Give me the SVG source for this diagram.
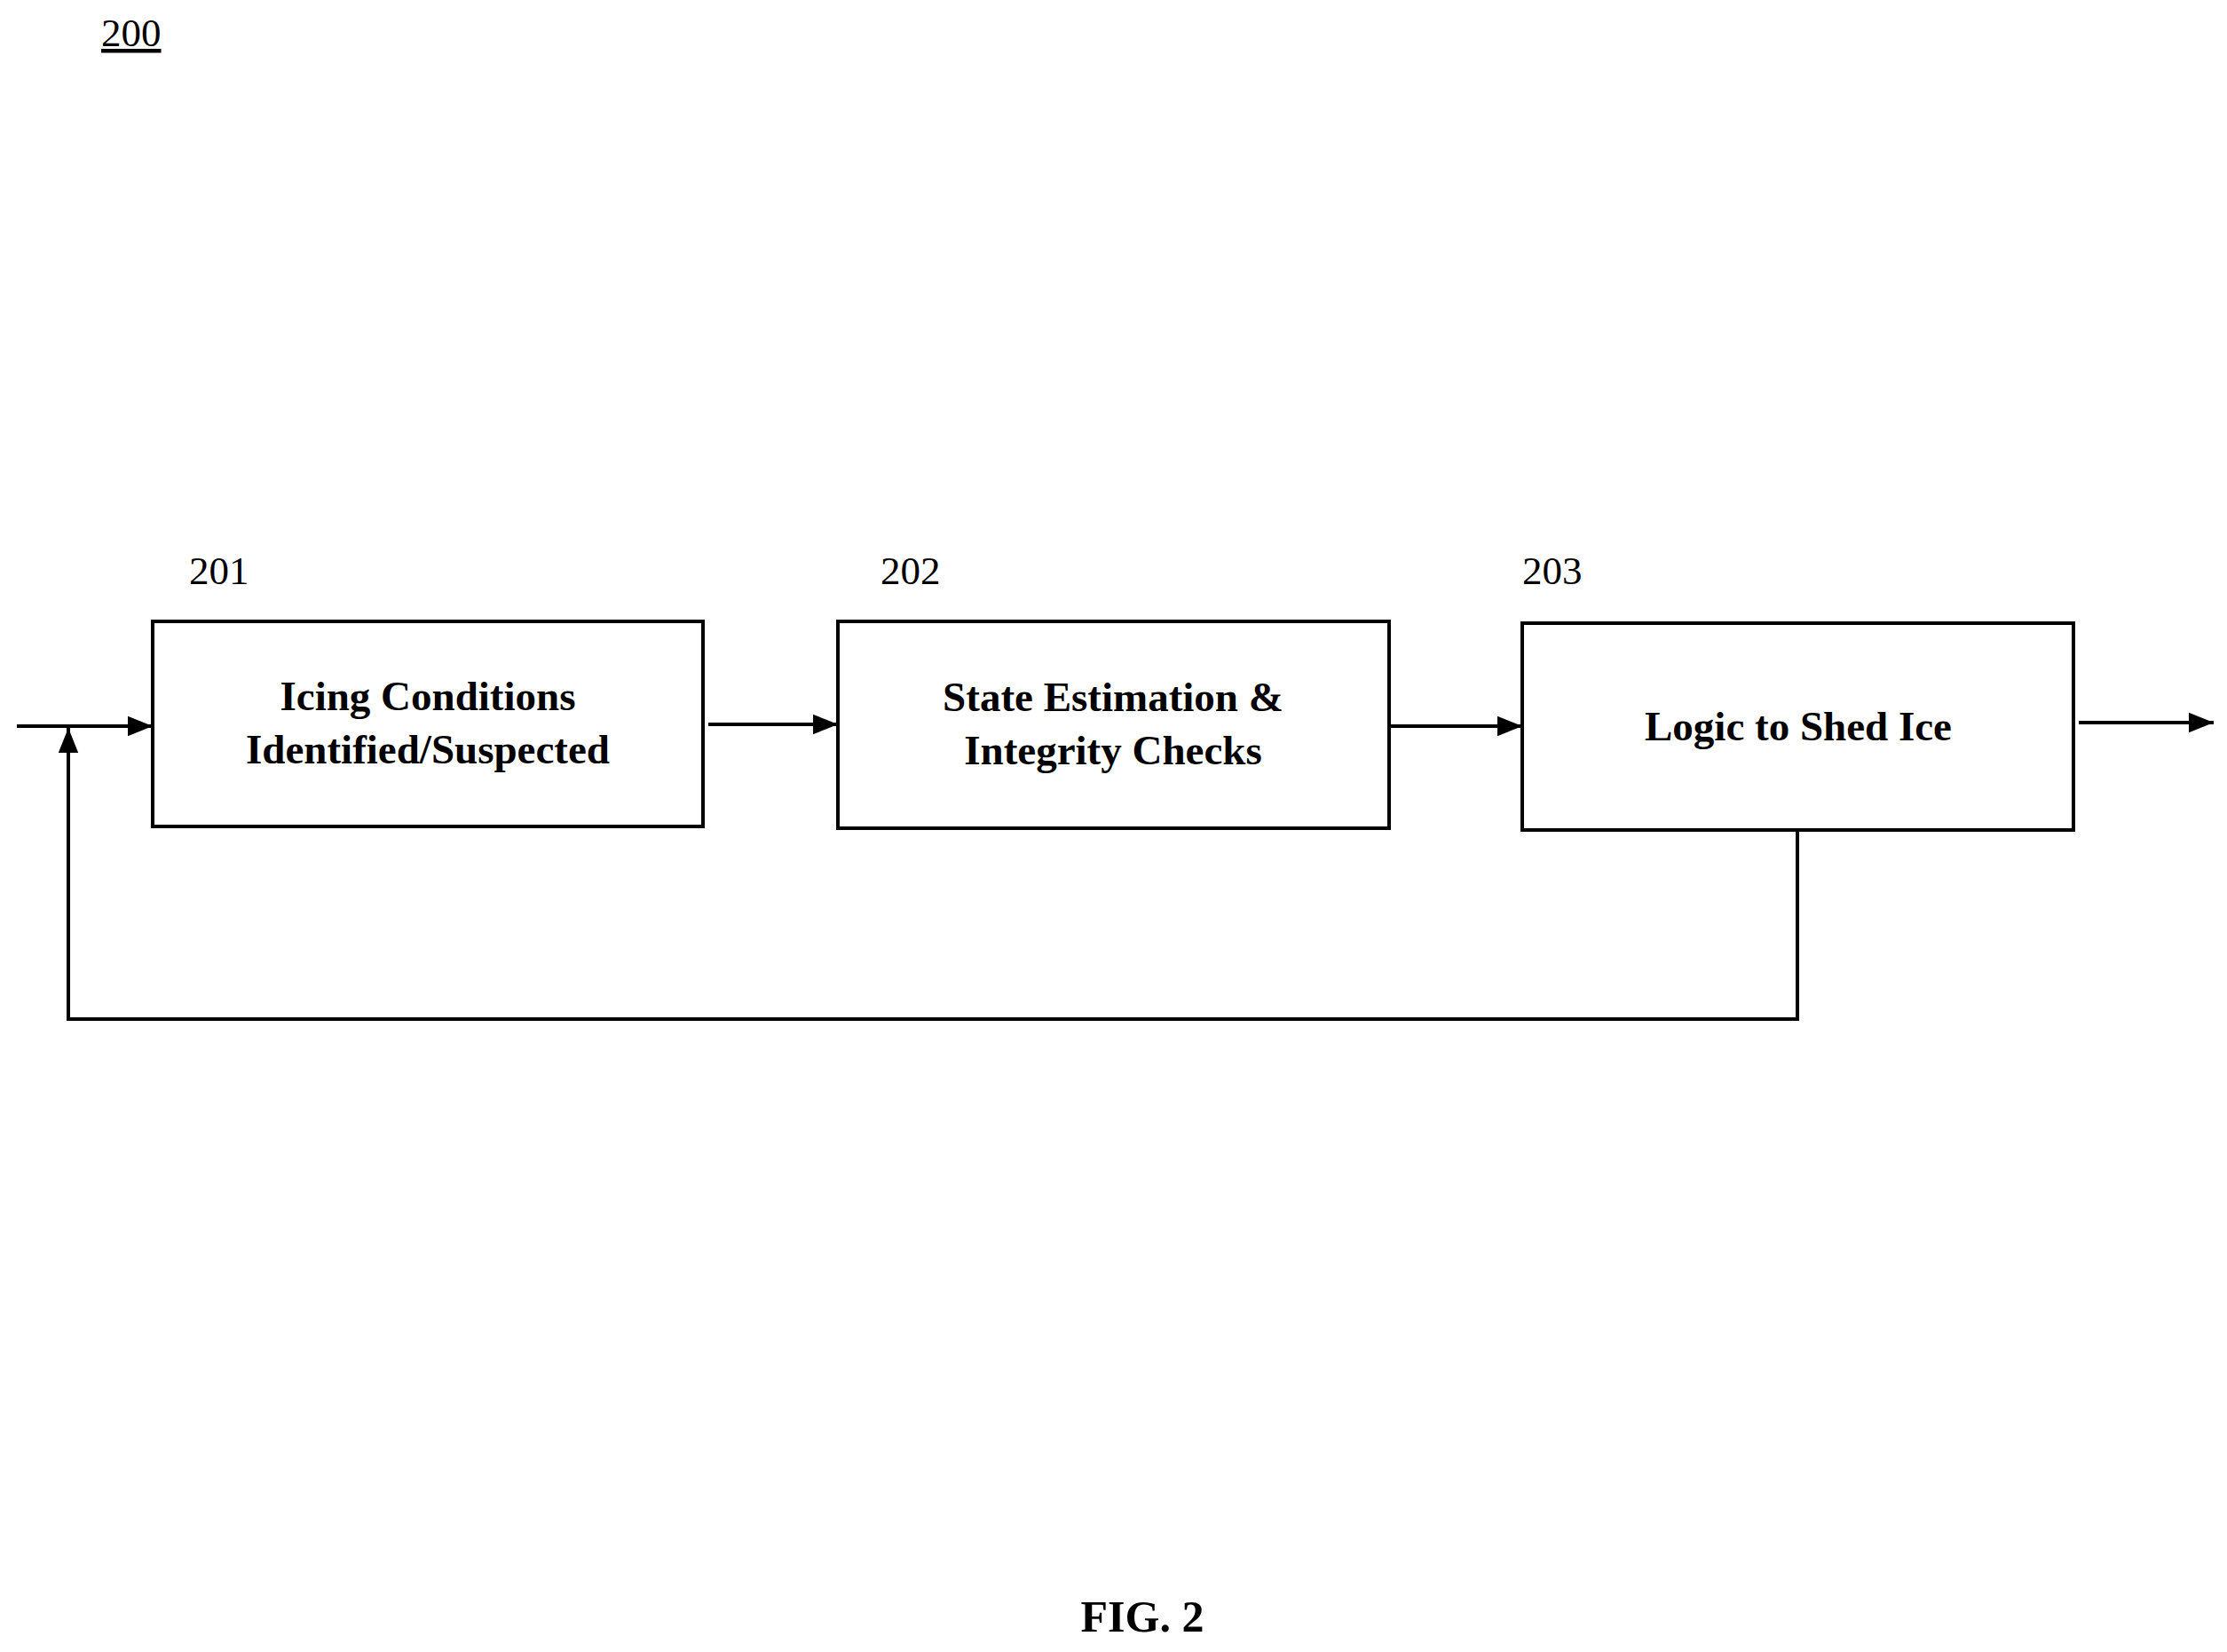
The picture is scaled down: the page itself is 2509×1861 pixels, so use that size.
<svg xmlns="http://www.w3.org/2000/svg" width="2509" height="1861" viewBox="0 0 2509 1861">
<style>
.box{fill:#fff;stroke:#000;stroke-width:4}
.ln{fill:none;stroke:#000;stroke-width:4}
.t{font-family:"Liberation Serif",serif;font-weight:bold;font-size:47px;text-anchor:middle}
.n{font-family:"Liberation Serif",serif;font-size:45px}
</style>
<defs><marker id="a" markerWidth="10" markerHeight="8" refX="9" refY="4" orient="auto" markerUnits="userSpaceOnUse" viewBox="0 0 10 8"><path d="M0,0L10,4L0,8z"/></marker>
<marker id="ah" viewBox="0 0 10 8" refX="10" refY="4" markerWidth="28" markerHeight="24" orient="auto" markerUnits="userSpaceOnUse"><path d="M0,0L10,4L0,8z"/></marker></defs>
<rect width="2509" height="1861" fill="#fff"/>
<text class="n" x="114" y="52" text-decoration="underline">200</text>
<g id="n201"><text class="n" x="213" y="658">201</text><rect class="box" x="172" y="700" width="620" height="231"/><text class="t" x="482" y="800">Icing Conditions</text><text class="t" x="482" y="860">Identified/Suspected</text></g>
<g id="n202"><text class="n" x="992" y="658">202</text><rect class="box" x="944" y="700" width="621" height="233"/><text class="t" x="1254" y="801">State Estimation &amp;</text><text class="t" x="1254" y="861">Integrity Checks</text></g>
<g id="n203"><text class="n" x="1715" y="658">203</text><rect class="box" x="1715" y="702" width="621" height="233"/><text class="t" x="2026" y="834">Logic to Shed Ice</text></g>
<g id="connectors">
<line class="ln" x1="19" y1="818" x2="172" y2="818" marker-end="url(#ah)"/>
<line class="ln" x1="798" y1="816" x2="944" y2="816" marker-end="url(#ah)"/>
<line class="ln" x1="1566" y1="818" x2="1715" y2="818" marker-end="url(#ah)"/>
<line class="ln" x1="2342" y1="814" x2="2494" y2="814" marker-end="url(#ah)"/>
<polyline class="ln" points="2025,935 2025,1148 77,1148 77,820" marker-end="url(#ah)"/>
</g>
<text class="t" x="1287" y="1838" style="font-size:50px">FIG. 2</text>
</svg>
